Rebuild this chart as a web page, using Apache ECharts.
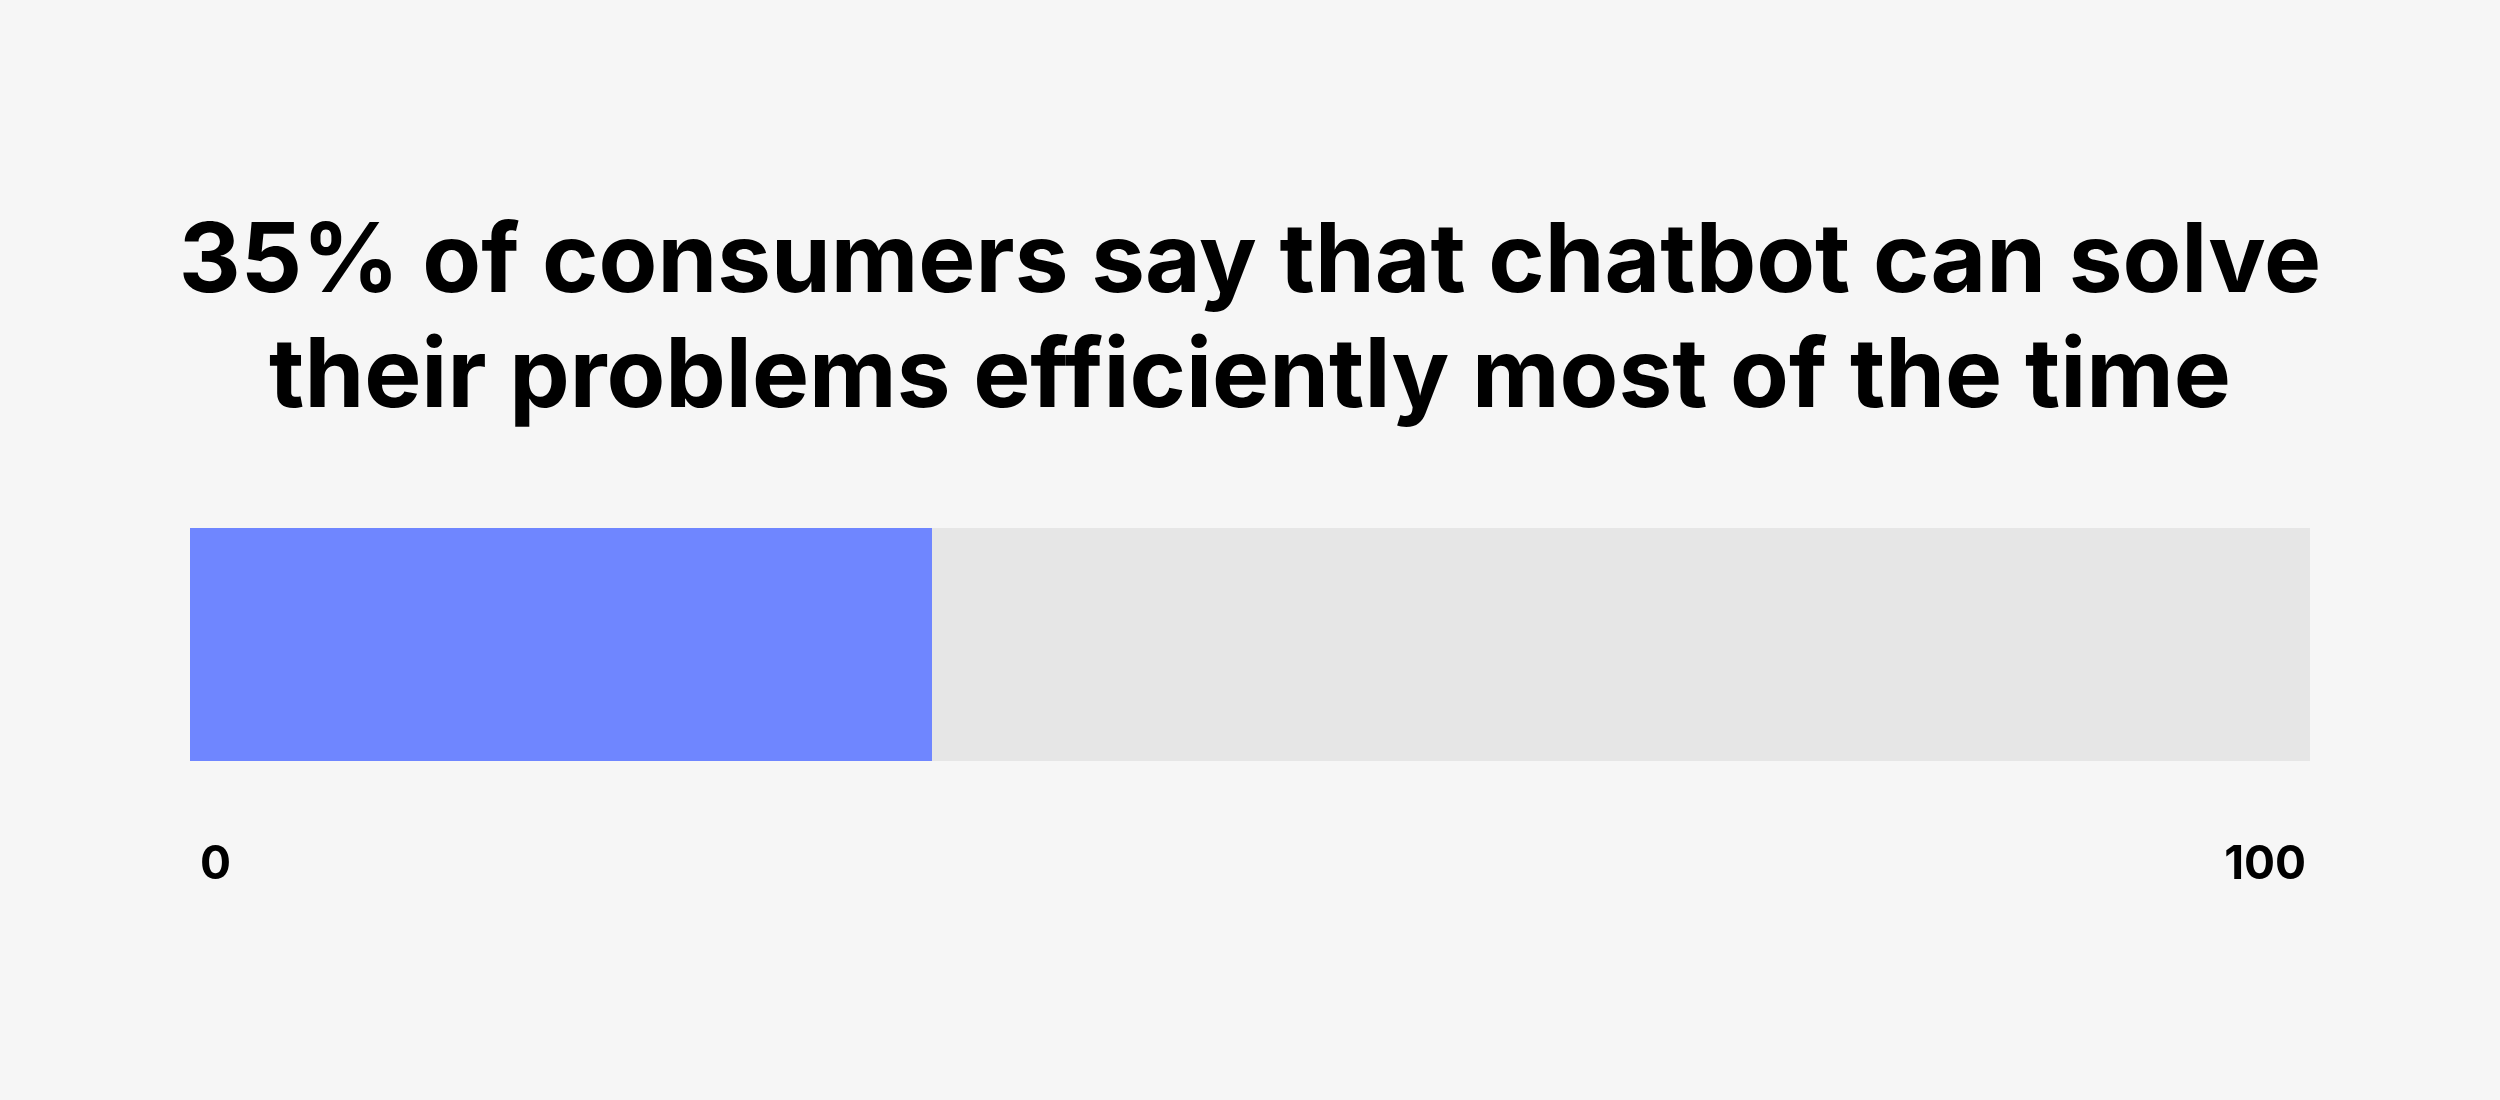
<!DOCTYPE html>
<html>
<head>
<meta charset="utf-8">
<script src="https://cdn.jsdelivr.net/npm/echarts@6/dist/echarts.min.js"></script>
<style>
html,body{margin:0;padding:0;background:#f6f6f6;}
#c{width:2500px;height:1100px;}
</style>
</head>
<body>
<div id="c"></div>
<script>
const titleLines = ["35% of consumers say that chatbot can solve", "their problems efficiently most of the time"];
const categories = ["Chatbot efficiency"];
const values = [35];
const axisMin = 0;
const axisMax = 100;

const chart = echarts.init(document.getElementById('c'));
chart.setOption({
  backgroundColor: '#f6f6f6',
  animation: false,
  title: {
    text: titleLines.join('\n'),
    left: 'center',
    top: 201,
    textStyle: {
      fontFamily: 'Inter',
      fontWeight: 700,
      fontSize: 96,
      lineHeight: 115,
      color: '#000000'
    }
  },
  grid: { left: 190, right: 190, top: 528, height: 233, containLabel: false },
  xAxis: {
    type: 'value',
    min: axisMin,
    max: axisMax,
    interval: 100,
    axisLine: { show: false },
    axisTick: { show: false },
    splitLine: { show: false },
    axisLabel: {
      margin: 81,
      fontFamily: 'Inter',
      fontWeight: 700,
      fontSize: 46,
      color: '#000000',
      alignMinLabel: 'left',
      alignMaxLabel: 'right',
      padding: [0, 4, 0, 10]
    }
  },
  yAxis: {
    type: 'category',
    data: categories,
    show: false
  },
  series: [{
    type: 'bar',
    data: values,
    barWidth: '100%',
    showBackground: true,
    backgroundStyle: { color: '#e6e6e6' },
    itemStyle: { color: '#6f86ff' }
  }]
});
</script>
</body>
</html>
